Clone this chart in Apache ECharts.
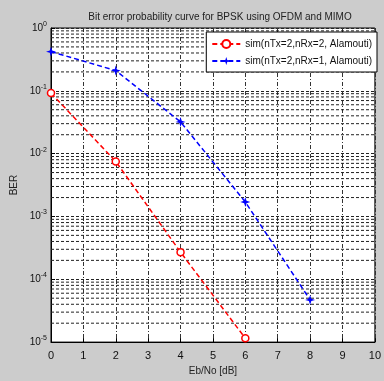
<!DOCTYPE html>
<html>
<head>
<meta charset="utf-8">
<script src="https://cdn.jsdelivr.net/npm/echarts@6/dist/echarts.min.js"></script>
<style>
  html, body { margin: 0; padding: 0; background: #cccccc; }
  #chart { width: 384px; height: 381px; }
</style>
</head>
<body>
<div id="chart"></div>
<script>
// Curva BER: BPSK com OFDM e MIMO (Alamouti)
const ebno = [0, 2, 4, 6, 8];
const berNrx2 = [0.092, 0.0075, 0.00027, 0.0000115];
const berNrx1 = [0.42, 0.21, 0.032, 0.0017, 0.000047];
const nomes = ["sim(nTx=2,nRx=2, Alamouti)", "sim(nTx=2,nRx=1, Alamouti)"];

// linhas menores do grid log (2..9 x 10^k)
const menores = [];
for (let k = -5; k < 0; k++) {
  for (let m = 2; m <= 9; m++) menores.push([m * Math.pow(10, k)]);
}

const pares = (ys) => ys.map((y, i) => [ebno[i], y]);
const FONTE = "Liberation Sans, Arial, sans-serif";

const g = echarts.init(document.getElementById("chart"));
g.setOption({
  animation: false,
  backgroundColor: "#cccccc",
  textStyle: { fontFamily: FONTE },
  title: {
    text: "Bit error probability curve for BPSK using OFDM and MIMO",
    left: 215, top: 7, textAlign: "center",
    textStyle: { fontSize: 10, fontWeight: "normal", color: "#222", fontFamily: FONTE },
  },
  legend: {
    right: 7, top: 32,
    z: 50,
    orient: "vertical",
    backgroundColor: "#fff",
    borderColor: "#000", borderWidth: 1, borderRadius: 0,
    padding: [7, 5, 6, 5],
    itemGap: 7,
    itemWidth: 28, itemHeight: 10,
    textStyle: { fontSize: 10, color: "#111", fontFamily: FONTE },
    data: nomes,
  },
  grid: {
    left: 51, right: 4, top: 28, bottom: 33,
    show: true, backgroundColor: "#fff", borderColor: "#000", borderWidth: 1,
  },
  xAxis: {
    type: "value", min: 0, max: 10, interval: 1,
    name: "Eb/No [dB]", nameLocation: "middle", nameGap: 23,
    nameTextStyle: { fontSize: 10, color: "#222" },
    axisLine: { lineStyle: { color: "#000" } },
    axisTick: { inside: true, length: 4, lineStyle: { color: "#000" } },
    axisLabel: { color: "#111", fontSize: 11, margin: 8 },
    splitLine: { show: true, lineStyle: { color: "#333", type: [4, 2, 1, 2], width: 1 } },
  },
  yAxis: {
    type: "log", min: 1e-5, max: 1, logBase: 10,
    name: "BER", nameLocation: "middle", nameGap: 25,
    nameTextStyle: { fontSize: 10, color: "#222" },
    axisLine: { lineStyle: { color: "#000" } },
    axisTick: { inside: true, length: 4, lineStyle: { color: "#000" } },
    axisLabel: {
      margin: 4,
      formatter: (v) => `{b|10}{s|${Math.round(Math.log10(v))}}`,
      rich: {
        b: { fontSize: 10, color: "#111", fontFamily: FONTE },
        s: { fontSize: 7, color: "#111", verticalAlign: "bottom", padding: [0, 0, 8, 0], fontFamily: FONTE },
      },
    },
    splitLine: { show: true, lineStyle: { color: "#222", type: [3, 2], width: 1 } },
  },
  series: [
    {
      // grid menor do eixo log
      type: "custom", silent: true, z: 1,
      encode: { y: 0 },
      data: menores,
      renderItem: (params, api) => {
        const a = api.coord([0, api.value(0)]);
        const b = api.coord([10, api.value(0)]);
        return {
          type: "line",
          shape: { x1: a[0], y1: a[1], x2: b[0], y2: b[1] },
          style: { stroke: "#222", lineWidth: 1, lineDash: [3, 2] },
        };
      },
    },
    {
      name: nomes[0], type: "line",
      data: pares(berNrx2),
      symbol: "circle", symbolSize: 7,
      itemStyle: { color: "#fff", borderColor: "#ff0000", borderWidth: 1.5 },
      lineStyle: { color: "#ff0000", width: 1.5, type: [5, 3] },
      z: 3,
    },
    {
      name: nomes[1], type: "line",
      data: pares(berNrx1),
      symbol: "path://M5,0 L6.2,3.8 L10,5 L6.2,6.2 L5,10 L3.8,6.2 L0,5 L3.8,3.8 Z",
      symbolSize: 10,
      itemStyle: { color: "#0000ff" },
      lineStyle: { color: "#0000ff", width: 1.5, type: [5, 3] },
      z: 3,
    },
  ],
});
</script>
</body>
</html>
